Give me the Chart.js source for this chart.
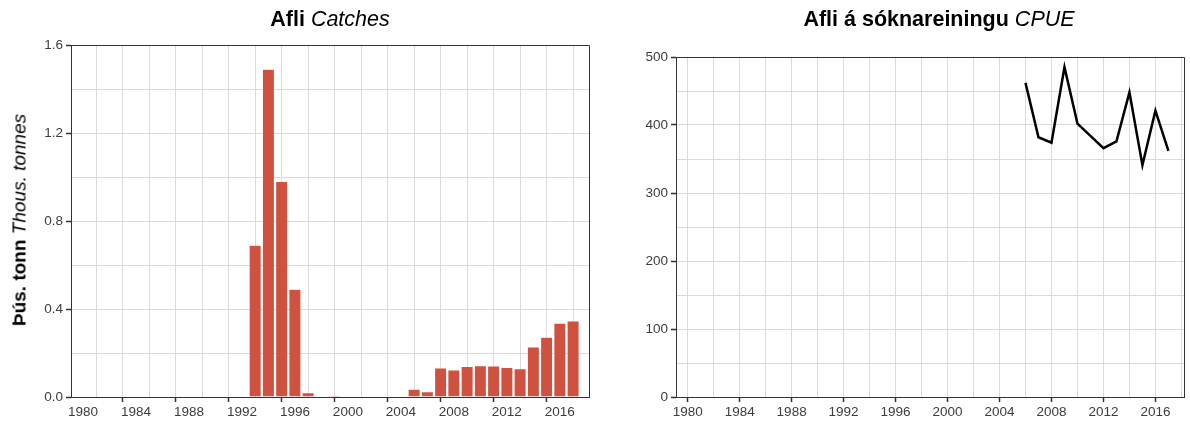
<!DOCTYPE html>
<html>
<head>
<meta charset="utf-8">
<script src="https://cdn.jsdelivr.net/npm/chart.js@4.4.1/dist/chart.umd.min.js"></script>
<style>
  body { margin: 0; background: #fff; font-family: 'Liberation Sans', Arial, sans-serif; }
  #wrap { position: relative; width: 1190px; height: 423px; overflow: hidden; }
  .panel { position: absolute; top: 0; height: 423px; }
  .title { position: absolute; top: 9px; font-size: 21.5px; line-height: 21px; white-space: nowrap; transform: translateX(-50%); color: #000; }
  .ylab { position: absolute; left: 18.5px; top: 220px; font-size: 19px; line-height: 19px; white-space: nowrap; transform: translate(-50%, -50%) rotate(-90deg); color: #000; }
  b { font-weight: bold; }
  i { font-style: italic; }
</style>
</head>
<body>
<div id="wrap">
  <div class="panel" style="left:0;width:600px"><canvas id="catchChart"></canvas></div>
  <div class="panel" style="left:600px;width:590px"><canvas id="cpueChart"></canvas></div>
  <div class="title" style="left:330px"><b>Afli</b> <i>Catches</i></div>
  <div class="title" style="left:939px"><b>Afli á sóknareiningu</b> <i>CPUE</i></div>
  <div class="ylab"><b>Þús. tonn</b> <i>Thous. tonnes</i></div>
</div>
<script>
// Catches (thousand tonnes) by year
const catchYears = [1993, 1994, 1995, 1996, 1997, 1998, 1999, 2000, 2001, 2002, 2003, 2004,
                    2005, 2006, 2007, 2008, 2009, 2010, 2011, 2012, 2013, 2014, 2015, 2016, 2017];
const catches = [0.69, 1.49, 0.98, 0.49, 0.02, null, 0.006, null, null, null, null, null,
                 0.036, 0.024, 0.132, 0.123, 0.139, 0.143, 0.141, 0.134, 0.129, 0.228, 0.272, 0.336, 0.346];

// CPUE by year
const cpueYears = [2006, 2007, 2008, 2009, 2010, 2011, 2012, 2013, 2014, 2015, 2016, 2017];
const cpue = [462, 382, 374, 485, 402, 384, 366, 376, 448, 341, 421, 362];

// grid lines and tick labels
const xGrid = [1980, 1982, 1984, 1986, 1988, 1990, 1992, 1994, 1996, 1998, 2000,
               2002, 2004, 2006, 2008, 2010, 2012, 2014, 2016, 2018];
const xLabels = [1980, 1984, 1988, 1992, 1996, 2000, 2004, 2008, 2012, 2016];
const catchGrid = [0, 0.2, 0.4, 0.6, 0.8, 1.0, 1.2, 1.4, 1.6];
const catchLabels = [0, 0.4, 0.8, 1.2, 1.6];
const cpueGrid = [0, 50, 100, 150, 200, 250, 300, 350, 400, 450, 500];
const cpueLabels = [0, 100, 200, 300, 400, 500];

const axisDark = '#333333';
const gridGrey = '#dadada';
const tickText = '#3d3d3d';

const isIn = (list, v) => list.some(x => Math.abs(x - v) < 1e-6);

// draw top and right border of the panel
const framePlugin = {
    id: 'frame',
    afterDraw(chart) {
        const { ctx, chartArea: a } = chart;
        ctx.save();
        ctx.strokeStyle = axisDark;
        ctx.lineWidth = 1;
        ctx.beginPath();
        ctx.moveTo(a.left, Math.round(a.top) + 0.5);
        ctx.lineTo(Math.round(a.right) + 0.5, Math.round(a.top) + 0.5);
        ctx.lineTo(Math.round(a.right) + 0.5, a.bottom);
        ctx.stroke();
        ctx.restore();
    }
};

function xScale() {
    return {
        type: 'linear',
        min: 1979.1,
        max: 2018.2,
        offset: false,
        afterBuildTicks: s => { s.ticks = xGrid.map(v => ({ value: v })); },
        afterFit: s => { s.height = 26; },
        grid: {
            color: gridGrey,
            tickLength: 5,
            tickWidth: 1.5,
            tickColor: c => (c.tick && isIn(xLabels, c.tick.value)) ? axisDark : 'rgba(0,0,0,0)'
        },
        border: { color: axisDark, width: 1 },
        ticks: {
            padding: 2,
            color: tickText,
            font: { size: 13.5 },
            autoSkip: false,
            maxRotation: 0,
            callback: v => isIn(xLabels, v) ? String(v) : ''
        }
    };
}

function yScale(grid, labels, max, width, fmt) {
    return {
        type: 'linear',
        min: 0,
        max: max,
        afterBuildTicks: s => { s.ticks = grid.map(v => ({ value: v })); },
        afterFit: s => { s.width = width; },
        grid: {
            color: gridGrey,
            tickLength: 5,
            tickWidth: 1.5,
            tickColor: c => (c.tick && isIn(labels, c.tick.value)) ? axisDark : 'rgba(0,0,0,0)'
        },
        border: { color: axisDark, width: 1 },
        ticks: {
            padding: 3,
            color: tickText,
            font: { size: 13.5 },
            autoSkip: false,
            callback: v => isIn(labels, v) ? fmt(v) : ''
        }
    };
}

Chart.defaults.font.family = "'Liberation Sans', Arial, sans-serif";
Chart.defaults.animation = false;

new Chart(document.getElementById('catchChart'), {
    type: 'bar',
    data: {
        datasets: [{
            data: catchYears.map((y, i) => ({ x: y, y: catches[i] })),
            backgroundColor: '#cf5140',
            borderColor: 'rgba(255,255,255,0.55)',
            borderWidth: 0.6,
            borderSkipped: 'start',
            barPercentage: 0.92,
            categoryPercentage: 1.0
        }]
    },
    options: {
        responsive: true,
        maintainAspectRatio: false,
        layout: { padding: { top: 45, right: 11, left: 0, bottom: 0 } },
        plugins: { legend: { display: false }, tooltip: { enabled: false } },
        scales: {
            x: xScale(),
            y: yScale(catchGrid, catchLabels, 1.6, 71, v => v.toFixed(1))
        }
    },
    plugins: [framePlugin]
});

new Chart(document.getElementById('cpueChart'), {
    type: 'line',
    data: {
        datasets: [{
            data: cpueYears.map((y, i) => ({ x: y, y: cpue[i] })),
            borderColor: '#000',
            borderWidth: 2.5,
            pointRadius: 0,
            tension: 0,
            fill: false
        }]
    },
    options: {
        responsive: true,
        maintainAspectRatio: false,
        layout: { padding: { top: 57, right: 6, left: 0, bottom: 0 } },
        plugins: { legend: { display: false }, tooltip: { enabled: false } },
        scales: {
            x: xScale(),
            y: yScale(cpueGrid, cpueLabels, 500, 76, v => String(v))
        }
    },
    plugins: [framePlugin]
});
</script>
</body>
</html>
